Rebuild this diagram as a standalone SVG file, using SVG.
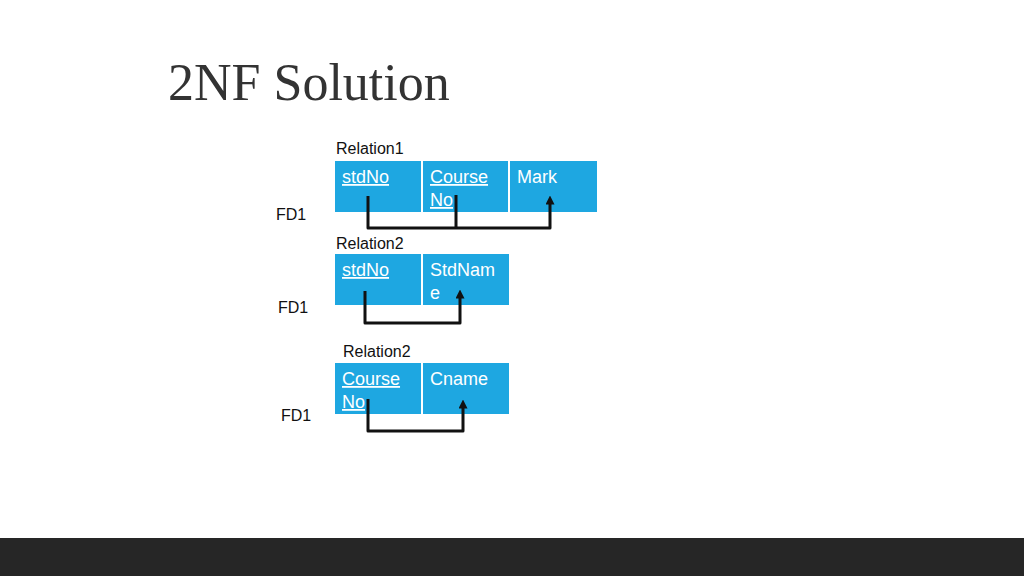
<svg xmlns="http://www.w3.org/2000/svg" width="1024" height="576" viewBox="0 0 1024 576">
<defs>
<style>
.cell{fill:#1ea7e1;}
.sep{stroke:#ffffff;stroke-width:2;}
.t{font-family:"Liberation Sans",Arial,sans-serif;font-size:18px;fill:#ffffff;}
.u{text-decoration:underline;}
.lbl{font-family:"Liberation Sans",Arial,sans-serif;font-size:16px;fill:#111111;}
.c{fill:none;stroke:#111111;stroke-width:3;stroke-linejoin:round;}
</style>
<marker id="ah" viewBox="0 0 10 10" refX="5" refY="5" markerWidth="3" markerHeight="3" orient="auto"><path d="M0,0L10,5L0,10z" fill="#111111"/></marker>
</defs>
<rect width="1024" height="576" fill="#ffffff"/>
<rect y="538" width="1024" height="38" fill="#262626"/>
<text x="168" y="100" font-family="'Liberation Serif','Times New Roman',serif" font-size="52" fill="#333333">2NF Solution</text>
<g id="relation1">
<text class="lbl" x="336" y="154">Relation1</text>
<rect class="cell" x="335" y="161" width="262" height="51"/>
<line class="sep" x1="422" y1="161" x2="422" y2="212"/>
<line class="sep" x1="509" y1="161" x2="509" y2="212"/>
<text class="t u" x="342" y="183">stdNo</text>
<text class="t u" x="430" y="183">Course</text>
<text class="t u" x="430" y="206">No</text>
<text class="t" x="517" y="183">Mark</text>
<text class="lbl" x="276" y="220">FD1</text>
</g>
<g id="relation2">
<text class="lbl" x="336" y="249">Relation2</text>
<rect class="cell" x="335" y="254" width="174" height="51"/>
<line class="sep" x1="422" y1="254" x2="422" y2="305"/>
<text class="t u" x="342" y="276">stdNo</text>
<text class="t" x="430" y="276">StdNam</text>
<text class="t" x="430" y="299">e</text>
<text class="lbl" x="278" y="313">FD1</text>
</g>
<g id="relation3">
<text class="lbl" x="343" y="357">Relation2</text>
<rect class="cell" x="335" y="363" width="174" height="51"/>
<line class="sep" x1="422" y1="363" x2="422" y2="414"/>
<text class="t u" x="342" y="385">Course</text>
<text class="t u" x="342" y="408">No</text>
<text class="t" x="430" y="385">Cname</text>
<text class="lbl" x="281" y="421">FD1</text>
</g>
<g id="connectors">
<path class="c" d="M368,196V228H550V200" marker-end="url(#ah)"/>
<path class="c" d="M456,195V228"/>
<path class="c" d="M365,291V323H460V294" marker-end="url(#ah)"/>
<path class="c" d="M368,399V431H463V404" marker-end="url(#ah)"/>
</g>
</svg>
